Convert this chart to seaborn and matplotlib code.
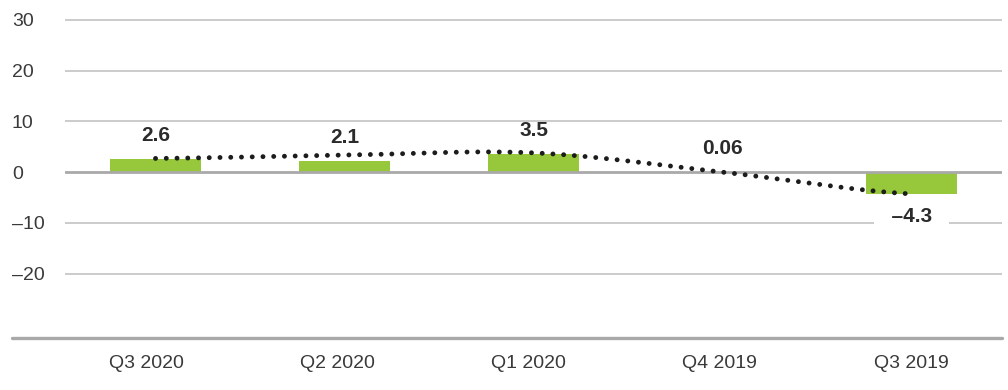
import numpy as np
import pandas as pd
import matplotlib
matplotlib.use("Agg")
import matplotlib.pyplot as plt
from matplotlib.lines import Line2D
import matplotlib.transforms as mtransforms
import seaborn as sns

# ---- data ----
quarters = ["Q3 2020", "Q2 2020", "Q1 2020", "Q4 2019", "Q3 2019"]
values = [2.6, 2.1, 3.5, 0.06, -4.3]
value_labels = ["2.6", "2.1", "3.5", "0.06", "\u20134.3"]
trend = [2.7, 3.35, 3.8, 0.0, -4.3]          # dotted smoothed trend line
y_ticks = [-20, -10, 0, 10, 20, 30]
y_tick_labels = ["\u201320", "\u201310", "0", "10", "20", "30"]

BAR_GREEN = "#97C83C"
GRID = "#BDBDBD"
AXIS = "#A9A9A9"
TEXT = "#2B2B2B"
TICK = "#3A3A3A"
DOT = "#1C1C1C"

sns.set_theme(style="white")
plt.rcParams["font.family"] = ["Liberation Sans", "DejaVu Sans"]

fig = plt.figure(figsize=(10.08, 3.9), dpi=100)
ax = fig.add_axes([65 / 1008, 52 / 390, (1002 - 65) / 1008, (380.2 - 52) / 390])

df = pd.DataFrame({"quarter": quarters, "value": values})
sns.barplot(data=df, x="quarter", y="value", order=quarters, color=BAR_GREEN,
            saturation=1, width=0.48, linewidth=0, ax=ax, zorder=2)

ax.set_ylim(-32.7, 32)
ax.set_xlim(-0.479, 4.479)

# gridlines
ax.set_yticks(y_ticks)
ax.set_yticklabels(y_tick_labels)
for t in y_ticks:
    if t == 0:
        ax.axhline(t, color=AXIS, lw=2.0, zorder=2.5)
    else:
        ax.axhline(t, color=GRID, lw=1.1, zorder=0.5)

# smoothed dotted trend (Catmull-Rom through the trend points)
def catmull(xs, ys, n=40):
    xs = np.asarray(xs, float)
    ys = np.asarray(ys, float)
    px = np.concatenate([[2 * xs[0] - xs[1]], xs, [2 * xs[-1] - xs[-2]]])
    py = np.concatenate([[ys[0]], ys, [ys[-1]]])
    outx, outy = [], []
    for i in range(1, len(px) - 2):
        t = np.linspace(0, 1, n, endpoint=(i == len(px) - 3))
        for arr, out in ((px, outx), (py, outy)):
            p0, p1, p2, p3 = arr[i - 1], arr[i], arr[i + 1], arr[i + 2]
            out.extend(0.5 * (2 * p1 + (-p0 + p2) * t
                              + (2 * p0 - 5 * p1 + 4 * p2 - p3) * t ** 2
                              + (-p0 + 3 * p1 - 3 * p2 + p3) * t ** 3))
    return np.array(outx), np.array(outy)

sx, sy = catmull(np.arange(len(trend)), trend)
ax.plot(sx, sy, color=DOT, lw=3.5, linestyle=(0, (0.01, 2.2)),
        dash_capstyle="round", zorder=5)

# value labels
for i, (v, lab) in enumerate(zip(values, value_labels)):
    if v >= 0:
        ax.annotate(lab, (i, v), xytext=(0, 17), textcoords="offset points",
                    ha="center", va="center", fontsize=15, fontweight="bold",
                    color=TEXT, zorder=4)
    else:
        ax.annotate("\u2002" + lab + "\u2002", (i, v), xytext=(0, -16),
                    textcoords="offset points",
                    ha="center", va="center", fontsize=15, fontweight="bold",
                    color=TEXT, zorder=4,
                    bbox=dict(boxstyle="square,pad=0.3", fc="white", ec="none"))

# axes styling
for s in ax.spines.values():
    s.set_visible(False)
ax.set_xlabel("")
ax.set_ylabel("")
ax.tick_params(axis="both", length=0, labelsize=14, colors=TICK)
ax.tick_params(axis="y", pad=38.2)
for lab in ax.get_yticklabels():
    lab.set_horizontalalignment("left")
ax.tick_params(axis="x", pad=12)
# category labels sit on a slightly wider grid than the bars
for k, lab in enumerate(ax.get_xticklabels()):
    shift = -9.5 + 2.25 * k
    lab.set_transform(lab.get_transform() +
                      mtransforms.ScaledTranslation(shift / 100, 0, fig.dpi_scale_trans))

# bottom baseline spanning full width
fig.add_artist(Line2D([12 / 1008, 1002 / 1008], [52 / 390, 52 / 390],
                      color=AXIS, lw=2.4, transform=fig.transFigure))

fig.savefig("out.png", dpi=100, facecolor="white")
